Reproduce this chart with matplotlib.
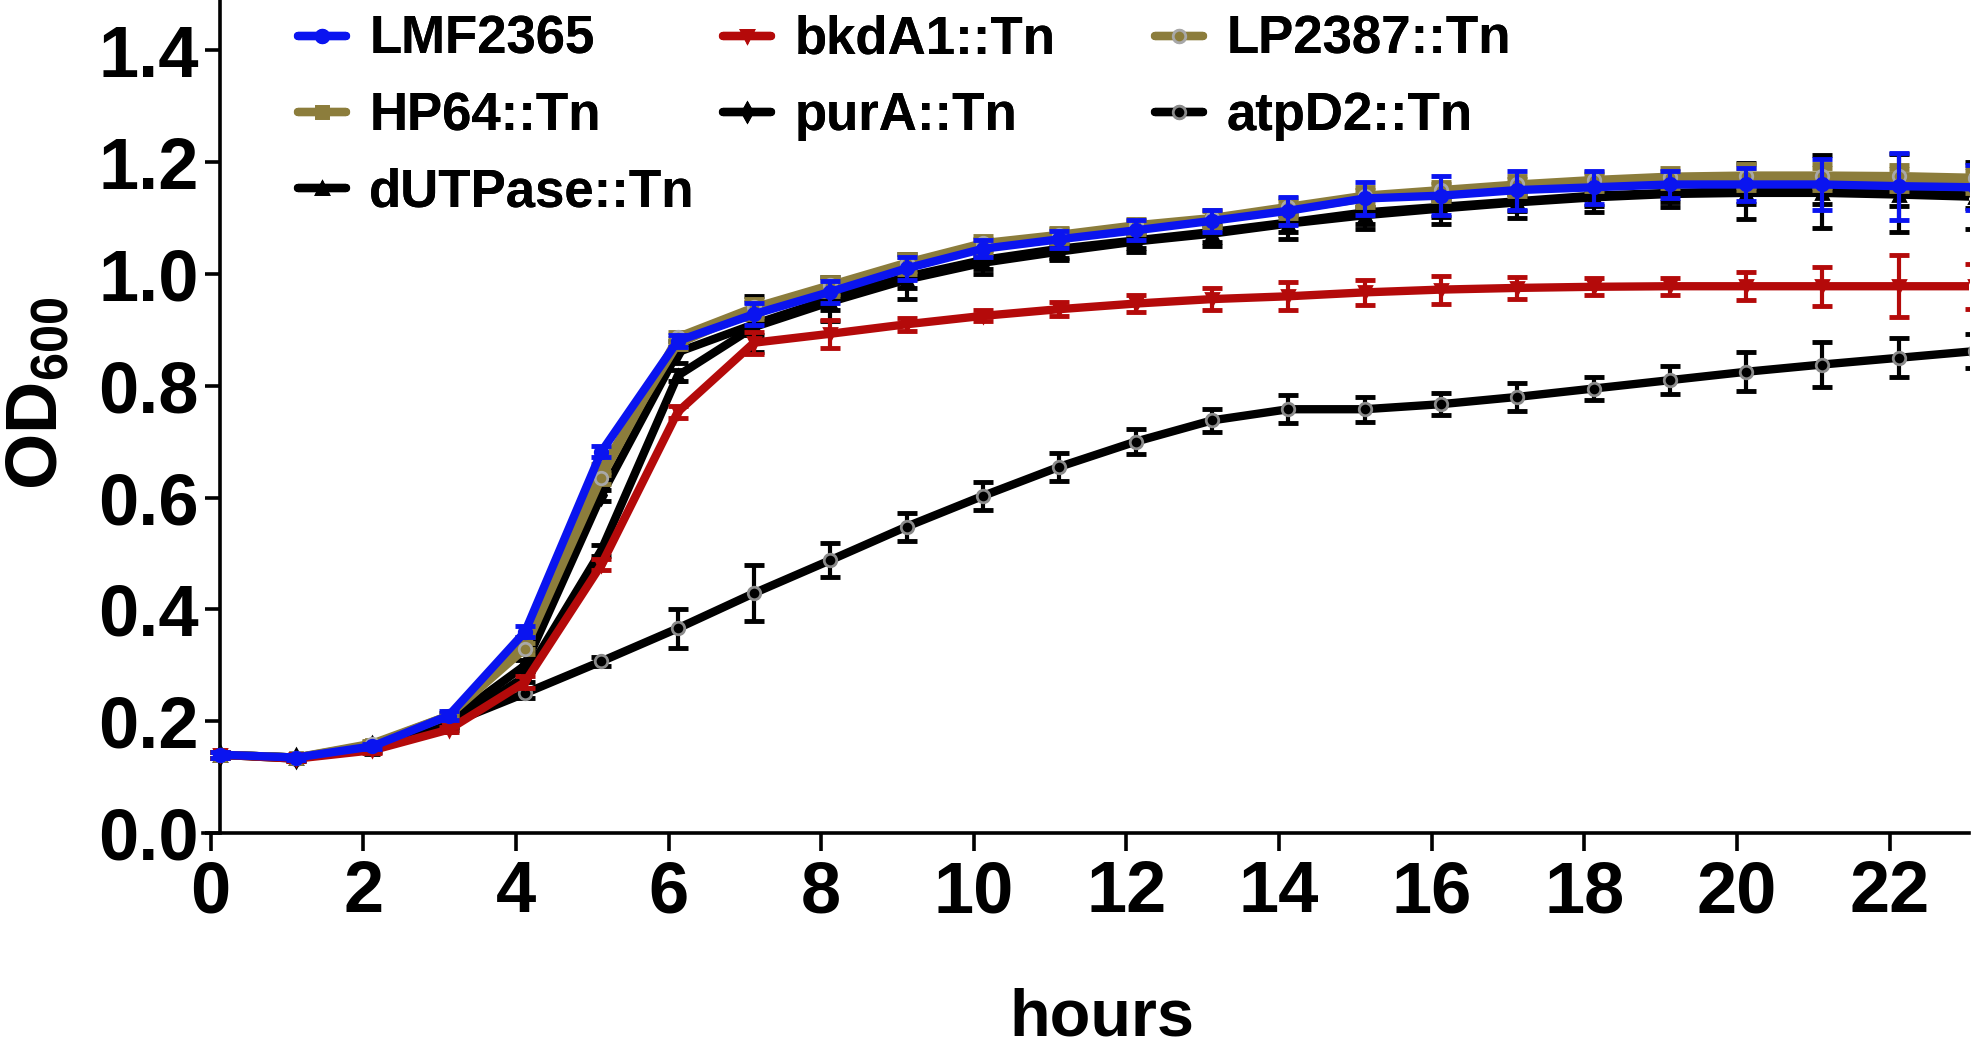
import matplotlib
matplotlib.use('Agg')
import matplotlib.pyplot as plt

plt.rcParams['font.family'] = ['Liberation Sans', 'DejaVu Sans']
plt.rcParams['font.weight'] = 'bold'
plt.rcParams['mathtext.fontset'] = 'custom'
plt.rcParams['mathtext.rm'] = 'Liberation Sans:bold'
plt.rcParams['mathtext.bf'] = 'Liberation Sans:bold'
plt.rcParams['mathtext.default'] = 'rm'

# sampling times (h)
hours = [0.12, 1.12, 2.12, 3.12, 4.12, 5.12, 6.12, 7.12, 8.12, 9.12, 10.12, 11.12,
         12.12, 13.12, 14.12, 15.12, 16.12, 17.12, 18.12, 19.12, 20.12, 21.12, 22.12, 23.12]

lmf2365 = [0.14, 0.135, 0.155, 0.21, 0.36, 0.682, 0.88, 0.928, 0.968, 1.01, 1.045, 1.062,
           1.078, 1.095, 1.113, 1.135, 1.14, 1.15, 1.155, 1.16, 1.16, 1.16, 1.157, 1.155]
lmf2365_sd = [0.005, 0.005, 0.005, 0.008, 0.01, 0.01, 0.01, 0.02, 0.02, 0.02, 0.015, 0.015,
              0.018, 0.02, 0.025, 0.03, 0.035, 0.035, 0.03, 0.025, 0.03, 0.045, 0.06, 0.04]

bkda1 = [0.14, 0.133, 0.148, 0.185, 0.27, 0.48, 0.753, 0.877, 0.893, 0.91, 0.925, 0.937,
         0.947, 0.955, 0.96, 0.967, 0.972, 0.975, 0.977, 0.978, 0.978, 0.978, 0.978, 0.978]
bkda1_sd = [0.005, 0.005, 0.005, 0.005, 0.01, 0.01, 0.01, 0.02, 0.025, 0.012, 0.01, 0.012,
            0.015, 0.02, 0.025, 0.022, 0.025, 0.02, 0.015, 0.015, 0.025, 0.035, 0.055, 0.04]

lp2387 = [0.14, 0.135, 0.16, 0.21, 0.33, 0.635, 0.887, 0.94, 0.98, 1.02, 1.055, 1.07,
          1.087, 1.10, 1.12, 1.14, 1.15, 1.16, 1.168, 1.174, 1.176, 1.176, 1.175, 1.172]
lp2387_sd = [0.005, 0.005, 0.005, 0.005, 0.01, 0.01, 0.01, 0.015, 0.015, 0.015, 0.012, 0.012,
             0.012, 0.015, 0.015, 0.015, 0.015, 0.015, 0.015, 0.015, 0.02, 0.02, 0.02, 0.02]

hp64 = [0.14, 0.135, 0.158, 0.21, 0.34, 0.65, 0.875, 0.935, 0.975, 1.015, 1.05, 1.068,
        1.083, 1.097, 1.115, 1.135, 1.145, 1.155, 1.163, 1.168, 1.17, 1.17, 1.168, 1.165]
hp64_sd = [0.005, 0.005, 0.005, 0.005, 0.01, 0.01, 0.01, 0.015, 0.015, 0.015, 0.012, 0.012,
           0.012, 0.015, 0.015, 0.015, 0.015, 0.015, 0.015, 0.015, 0.02, 0.02, 0.02, 0.02]

pura = [0.14, 0.135, 0.155, 0.2, 0.3, 0.604, 0.86, 0.91, 0.955, 0.995, 1.025, 1.045,
        1.06, 1.075, 1.092, 1.11, 1.12, 1.13, 1.14, 1.145, 1.148, 1.148, 1.145, 1.14]
pura_sd = [0.005, 0.005, 0.005, 0.005, 0.01, 0.01, 0.02, 0.05, 0.04, 0.04, 0.025, 0.02,
           0.02, 0.025, 0.03, 0.03, 0.03, 0.03, 0.03, 0.025, 0.05, 0.065, 0.07, 0.06]

dutpase = [0.14, 0.135, 0.15, 0.19, 0.28, 0.506, 0.818, 0.905, 0.95, 0.99, 1.02, 1.04,
           1.058, 1.072, 1.09, 1.105, 1.117, 1.128, 1.137, 1.143, 1.145, 1.145, 1.142, 1.138]
dutpase_sd = [0.005, 0.005, 0.005, 0.005, 0.01, 0.01, 0.01, 0.015, 0.015, 0.015, 0.012, 0.012,
              0.012, 0.015, 0.015, 0.015, 0.015, 0.015, 0.015, 0.015, 0.02, 0.02, 0.02, 0.02]

atpd2 = [0.14, 0.133, 0.155, 0.195, 0.25, 0.307, 0.366, 0.429, 0.488, 0.548, 0.603, 0.655,
         0.70, 0.738, 0.758, 0.758, 0.767, 0.78, 0.795, 0.81, 0.825, 0.838, 0.85, 0.862]
atpd2_sd = [0.005, 0.005, 0.005, 0.005, 0.008, 0.008, 0.035, 0.05, 0.03, 0.025, 0.025, 0.025,
            0.022, 0.02, 0.025, 0.022, 0.02, 0.025, 0.02, 0.025, 0.035, 0.04, 0.035, 0.03]

BLUE = '#0a14f0'
RED = '#b40a0a'
OLIVE = '#8c7d3c'

# label, values, sd, line colour, marker, marker face, marker edge, z
series = [
    ('atpD2::Tn', atpd2, atpd2_sd, 'black', 'o', 'black', '#8a8a8a', 2),
    ('dUTPase::Tn', dutpase, dutpase_sd, 'black', '^', 'black', 'black', 3),
    ('purA::Tn', pura, pura_sd, 'black', 'd', 'black', 'black', 4),
    ('HP64::Tn', hp64, hp64_sd, OLIVE, 's', OLIVE, OLIVE, 5),
    ('LP2387::Tn', lp2387, lp2387_sd, OLIVE, 'o', OLIVE, '#a8a8a8', 6),
    ('bkdA1::Tn', bkda1, bkda1_sd, RED, 'v', RED, RED, 7),
    ('LMF2365', lmf2365, lmf2365_sd, BLUE, 'o', BLUE, BLUE, 8),
]

fig = plt.figure(figsize=(19.76, 10.47), dpi=100)
ax = fig.add_axes([203 / 1976, 214 / 1047, 1766 / 1976, 833 / 1047])

handles = {}
for name, vals, sd, col, mk, mfc, mec, z in series:
    ax.errorbar(hours, vals, yerr=sd, fmt='none', ecolor=col, elinewidth=3,
                capsize=7, capthick=3.5, zorder=z)
    ln, = ax.plot(hours, vals, color=col, lw=6, marker=mk, ms=9, mfc=mfc, mec=mec,
                  mew=2, solid_joinstyle='round', solid_capstyle='round', zorder=z + 0.5)
    handles[name] = ln

ax.set_xlim(-0.1, 23.04)
ax.set_ylim(0, 1.49)
ax.set_xticks([0, 2, 4, 6, 8, 10, 12, 14, 16, 18, 20, 22])
ax.set_yticks([0.0, 0.2, 0.4, 0.6, 0.8, 1.0, 1.2, 1.4])
ax.set_yticklabels(['0.0', '0.2', '0.4', '0.6', '0.8', '1.0', '1.2', '1.4'])

for s in ['top', 'right']:
    ax.spines[s].set_visible(False)
ax.spines['left'].set_position(('data', 0.12))
ax.spines['left'].set_linewidth(2.6)
ax.spines['bottom'].set_linewidth(2.6)
ax.tick_params(axis='both', labelsize=52, width=2.6, pad=4)
ax.tick_params(axis='x', length=13, pad=6)
ax.tick_params(axis='y', length=11)
for lab in ax.get_xticklabels() + ax.get_yticklabels():
    lab.set_fontweight('bold')

ax.set_xlabel('hours', fontsize=48, fontweight='bold')
ax.xaxis.set_label_coords(0.509, -0.186)
ax.set_ylabel('OD$_{600}$', fontsize=52, fontweight='bold')
ax.yaxis.set_label_coords(-0.074, 0.528)

# legend laid out as three columns like the original
columns = [(['LMF2365', 'HP64::Tn', 'dUTPase::Tn'], 298),
           (['bkdA1::Tn', 'purA::Tn'], 723),
           (['LP2387::Tn', 'atpD2::Tn'], 1155)]
for names, xpix in columns:
    leg = fig.legend([handles[n] for n in names], names, loc='upper left',
                     bbox_to_anchor=(xpix / 1976, 1 - 15 / 1047), frameon=False,
                     borderpad=0, borderaxespad=0, handlelength=0.9, handletextpad=0.45,
                     labelspacing=0.5, prop={'size': 38, 'weight': 'bold'})
    fig.add_artist(leg)

fig.savefig('out.png', dpi=100)
